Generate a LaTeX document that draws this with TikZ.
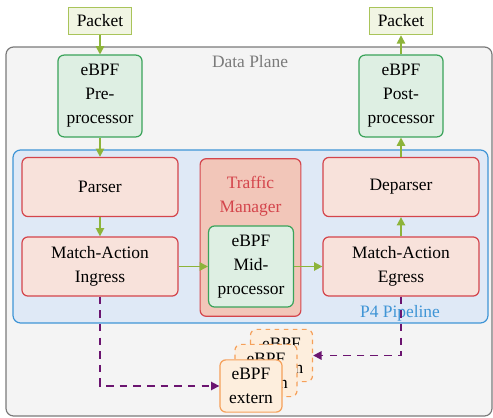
\documentclass[tikz,border=0pt]{standalone}
\usepackage{fontspec}
\setmainfont{Liberation Serif}
\usetikzlibrary{arrows.meta}
\definecolor{plane}{HTML}{F4F4F4}
\definecolor{planeline}{HTML}{7A7A7A}
\definecolor{pipe}{HTML}{DFE9F6}
\definecolor{pipeline}{HTML}{3F95D6}
\definecolor{stage}{HTML}{F8E2DB}
\definecolor{stageline}{HTML}{D4454C}
\definecolor{tmfill}{HTML}{F2C6B9}
\definecolor{ebpf}{HTML}{DEEFE3}
\definecolor{ebpfline}{HTML}{3AA35A}
\definecolor{packet}{HTML}{F1F5E3}
\definecolor{packetline}{HTML}{A9C45A}
\definecolor{flowcol}{HTML}{8DB43A}
\definecolor{extfill}{HTML}{FDEEDD}
\definecolor{extline}{HTML}{F5A05A}
\definecolor{hookcol}{HTML}{6B1470}

\begin{document}
\begin{tikzpicture}[x=0.66pt, y=-0.66pt,
  font=\fontsize{11.5}{15.8}\selectfont,
  box/.style={rounded corners=4pt, align=center, thick, inner sep=1pt},
  packetbox/.style={draw=packetline, fill=packet, thick, minimum width=41.5pt, minimum height=18pt, inner sep=1pt},
  ebpfbox/.style={box, draw=ebpfline, fill=ebpf, minimum width=55.5pt, minimum height=54pt},
  stagebox/.style={box, draw=stageline, fill=stage, minimum width=103pt, minimum height=39pt},
  externbox/.style={box, draw=extline, fill=extfill, minimum width=41pt, minimum height=34.5pt},
  flow/.style={->, >={Triangle[length=5.5pt, width=5.5pt]}, flowcol, line width=1.1pt},
  hook/.style={->, >={Triangle[length=5.5pt, width=5.5pt]}, hookcol, line width=1.1pt, dash pattern=on 5pt off 4pt}]

  \useasboundingbox (0,0) rectangle (493,418);

  % --- Data plane and P4 pipeline frames ---
  \draw[planeline, fill=plane, rounded corners=5pt, thick] (6,47) rectangle (492,416);
  \node[text=planeline] (dplabel) at (250,62) {Data Plane};
  \draw[pipeline, fill=pipe, rounded corners=5pt, thick] (13,150) rectangle (488,323);
  \node[text=pipeline] (p4label) at (400,313) {P4 Pipeline};

  % --- Packets in and out ---
  \node[packetbox] (pktin) at (100,21) {Packet};
  \node[packetbox] (pktout) at (401,21) {Packet};

  % --- eBPF pre / post ---
  \node[ebpfbox] (pre) at (100,96) {eBPF\\Pre-\\processor};
  \node[ebpfbox] (post) at (401,96) {eBPF\\Post-\\processor};

  % --- P4 stages ---
  \node[stagebox] (parser) at (100,187) {Parser};
  \node[stagebox] (ingress) at (100,266.5) {Match-Action\\Ingress};
  \node[stagebox] (deparser) at (401,187) {Deparser};
  \node[stagebox] (egress) at (401,266.5) {Match-Action\\Egress};

  % --- Traffic manager with mid-processor ---
  \node[box, draw=stageline, fill=tmfill, minimum width=66.5pt, minimum height=104pt] (tm) at (250.5,237.5) {};
  \node[text=stageline, align=center] (tmtext) at (250.5,196) {Traffic\\Manager};
  \node[ebpfbox, minimum width=56pt, minimum height=53.5pt] (mid) at (251,266.5) {eBPF\\Mid-\\processor};

  % --- eBPF externs (stacked) ---
  \node[externbox, dashed] (extC) at (281.5,355.5) {eBPF\\extern};
  \node[externbox, dashed] (extB) at (266,370.5) {eBPF\\extern};
  \node[externbox] (extA) at (251,386) {eBPF\\extern};

  % --- Packet flow ---
  \draw[flow] (pktin) -- (pre);
  \draw[flow] (pre) -- (parser);
  \draw[flow] (parser) -- (ingress);
  \draw[flow] (ingress) -- (mid);
  \draw[flow] (mid) -- (egress);
  \draw[flow] (egress) -- (deparser);
  \draw[flow] (deparser) -- (post);
  \draw[flow] (post) -- (pktout);

  % --- Extern calls ---
  \draw[hook] (ingress.south) |- (extA.west);
  \draw[hook] (egress.south) |- (extC.east);

\end{tikzpicture}
\end{document}
